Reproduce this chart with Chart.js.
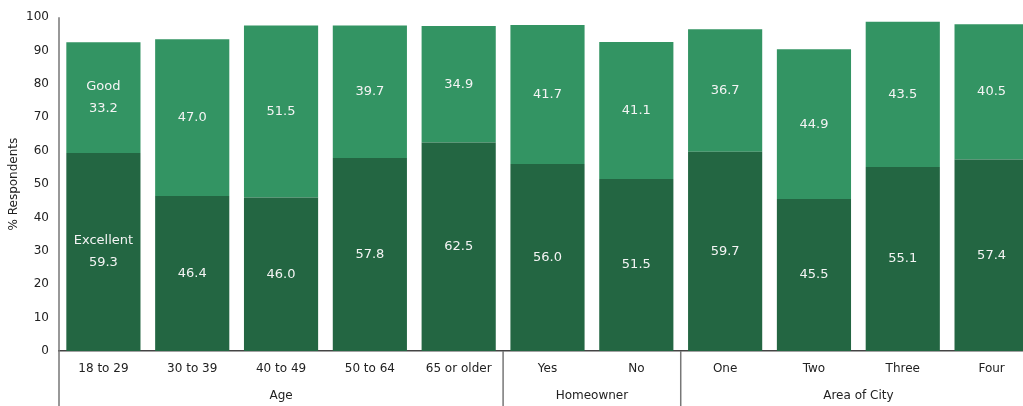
<!DOCTYPE html>
<html>
<head>
<meta charset="utf-8">
<script src="https://cdn.jsdelivr.net/npm/chart.js@4.4.1/dist/chart.umd.min.js"></script>
<style>
  html, body { margin: 0; padding: 0; background: #fff; overflow: hidden; }
  #wrap { position: relative; width: 1036px; height: 406px; }
</style>
</head>
<body>
<div id="wrap"><canvas id="ratingChart"></canvas></div>
<script>
const categories = ['18 to 29', '30 to 39', '40 to 49', '50 to 64', '65 or older', 'Yes', 'No', 'One', 'Two', 'Three', 'Four'];
const excellent = [59.3, 46.4, 46.0, 57.8, 62.5, 56.0, 51.5, 59.7, 45.5, 55.1, 57.4];
const good = [33.2, 47.0, 51.5, 39.7, 34.9, 41.7, 41.1, 36.7, 44.9, 43.5, 40.5];
const groups = [
  { label: 'Age', from: 0, to: 4 },
  { label: 'Homeowner', from: 5, to: 6 },
  { label: 'Area of City', from: 7, to: 10 }
];

const FONT = "'DejaVu Sans', sans-serif";

// value labels centred inside each bar segment; first bar also names the series
const barLabels = {
  id: 'barLabels',
  afterDatasetsDraw(chart) {
    const ctx = chart.ctx;
    ctx.save();
    ctx.fillStyle = '#f4f4f4';
    ctx.font = '13px ' + FONT;
    ctx.textAlign = 'center';
    ctx.textBaseline = 'middle';
    chart.data.datasets.forEach((ds, di) => {
      chart.getDatasetMeta(di).data.forEach((bar, i) => {
        const mid = (bar.y + bar.base) / 2;
        const txt = ds.data[i].toFixed(1);
        if (i === 0) {
          ctx.fillText(ds.label, bar.x, mid - 11);
          ctx.fillText(txt, bar.x, mid + 11);
        } else {
          ctx.fillText(txt, bar.x, mid);
        }
      });
    });
    ctx.restore();
  }
};

// second row of x labels with separators between groups
const groupAxis = {
  id: 'groupAxis',
  afterDraw(chart) {
    const ctx = chart.ctx;
    const x = chart.scales.x;
    const area = chart.chartArea;
    const bottom = chart.height;
    const step = (area.right - area.left) / categories.length;
    ctx.save();
    ctx.strokeStyle = '#777';
    ctx.lineWidth = 1.5;
    ctx.beginPath();
    ctx.moveTo(area.left, area.top);
    ctx.lineTo(area.left, bottom);
    groups.slice(1).forEach(g => {
      const sx = area.left + g.from * step;
      ctx.moveTo(sx, area.bottom);
      ctx.lineTo(sx, bottom);
    });
    ctx.stroke();
    ctx.fillStyle = '#222';
    ctx.font = '12px ' + FONT;
    ctx.textAlign = 'center';
    ctx.textBaseline = 'middle';
    groups.forEach(g => {
      const cx = (x.getPixelForValue(g.from) + x.getPixelForValue(g.to)) / 2;
      ctx.fillText(g.label, cx, 396);
    });
    ctx.restore();
  }
};

new Chart(document.getElementById('ratingChart'), {
  type: 'bar',
  data: {
    labels: categories,
    datasets: [
      { label: 'Excellent', data: excellent, backgroundColor: '#236642', borderWidth: 0 },
      { label: 'Good', data: good, backgroundColor: '#339463', borderWidth: 0 }
    ]
  },
  options: {
    responsive: true,
    maintainAspectRatio: false,
    animation: false,
    barPercentage: 0.835,
    categoryPercentage: 1,
    layout: { padding: { top: 7, right: 0, left: 0, bottom: 0 } },
    plugins: {
      legend: { display: false },
      tooltip: { enabled: false }
    },
    scales: {
      x: {
        stacked: true,
        grid: { display: false, drawTicks: false },
        border: { display: true, color: '#444', width: 1.5 },
        ticks: { color: '#222', font: { family: FONT, size: 12 }, padding: 11, maxRotation: 0 },
        afterFit(scale) { scale.height = 55; }
      },
      y: {
        stacked: true,
        min: 0,
        max: 100,
        grid: { display: false, drawTicks: false },
        border: { display: false },
        ticks: { stepSize: 10, color: '#222', font: { family: FONT, size: 12 }, padding: 10 },
        title: {
          display: true,
          text: '% Respondents',
          color: '#222',
          font: { family: FONT, size: 12 },
          padding: { top: 7, bottom: 0 }
        },
        afterFit(scale) { scale.width = 59; }
      }
    }
  },
  plugins: [barLabels, groupAxis]
});
</script>
</body>
</html>
